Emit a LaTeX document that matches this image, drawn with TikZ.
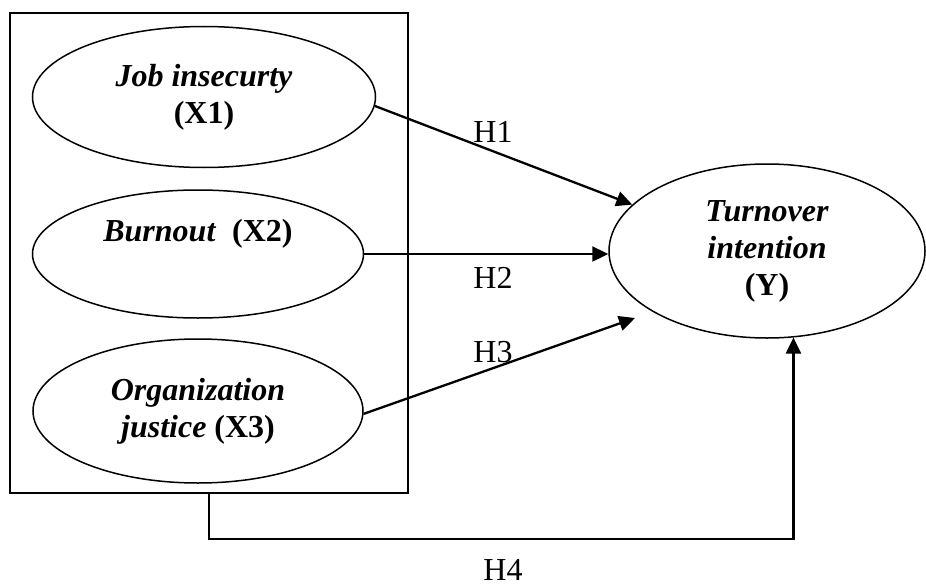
\documentclass[tikz,border=0pt]{standalone}
\usepackage{fontspec}
\setmainfont{Liberation Serif}
\usetikzlibrary{shapes.geometric,arrows.meta}

\begin{document}
\begin{tikzpicture}[x=1pt,y=-1pt,font=\fontsize{32}{37}\selectfont]
\tikzstyle{var node}=[ellipse,draw,line width=1.5pt,inner sep=0pt,align=center]
\tikzstyle{path arrow}=[line width=2.3pt,-{Triangle[length=16pt,width=15pt]}]
\tikzstyle{hyp label}=[inner sep=0pt]

\useasboundingbox (0,0) rectangle (926,586);

% frame round the independent variables
\node(frame)[draw,line width=2pt,minimum width=398pt,minimum height=480pt] at (209,253) {};

\node(x1)[var node,minimum width=343pt,minimum height=141pt] at (204,97)
  {\textbf{\textit{Job insecurty}}\\ \textbf{(X1)}};
\node(x2)[var node,minimum width=331pt,minimum height=128pt] at (198,254)
  {\textbf{\textit{Burnout}}\ \ \textbf{(X2)}\\ \strut};
\node(x3)[var node,minimum width=330pt,minimum height=144pt] at (198,411)
  {\textbf{\textit{Organization}}\\ \textbf{\textit{justice}} \textbf{(X3)}};
\node(y)[var node,minimum width=316pt,minimum height=174pt] at (767,251)
  {\textbf{\textit{Turnover}}\\ \textbf{\textit{intention}}\\ \textbf{(Y)}};

\coordinate (h3end) at (635,318);

% hypotheses
\draw[path arrow] (x1.-3) -- (y.161);
\draw[path arrow] (x2.east) -- (x2.east -| y.west);
\draw[path arrow] (x3.-1) -- (h3end);
\draw[path arrow] (frame.south) -- ++(0,45) -| (y.-73);

\node(h1)[hyp label] at (493,132) {H1};
\node(h2)[hyp label] at (493,278) {H2};
\node(h3)[hyp label] at (493,352) {H3};
\node(h4)[hyp label] at (503,570) {H4};

\end{tikzpicture}
\end{document}
